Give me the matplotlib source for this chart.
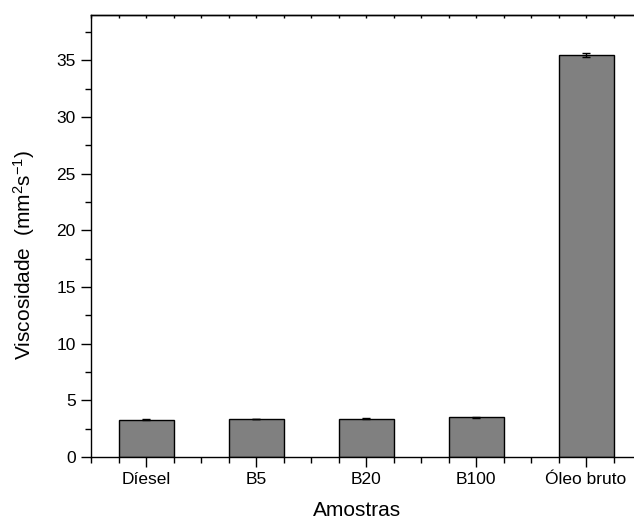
import matplotlib
matplotlib.use("Agg")
import matplotlib.pyplot as plt
from matplotlib.ticker import MultipleLocator

plt.rcParams['font.family'] = ['Liberation Sans', 'DejaVu Sans']
plt.rcParams['mathtext.fontset'] = 'custom'
plt.rcParams['mathtext.rm'] = 'Liberation Sans'
plt.rcParams['mathtext.it'] = 'Liberation Sans:italic'

categories = ['Díesel', 'B5', 'B20', 'B100', 'Óleo bruto']
viscosity = [3.30, 3.35, 3.38, 3.50, 35.48]
errors = [0.03, 0.02, 0.05, 0.05, 0.15]

fig = plt.figure(figsize=(6.34, 5.23), dpi=100)
ax = fig.add_axes([91 / 634, 1 - 457 / 523, 550 / 634, 442 / 523])

x = list(range(len(categories)))
ax.bar(x, viscosity, width=0.5, color='#808080', edgecolor='black', linewidth=1.0,
       yerr=errors, capsize=3, error_kw=dict(ecolor='black', elinewidth=1.0, capthick=1.0),
       zorder=2)

ax.set_xlim(-0.5, 4.5)
ax.set_ylim(0, 39)
ax.set_xticks(x)
ax.set_xticklabels(categories)
ax.xaxis.set_minor_locator(MultipleLocator(0.25))
ax.yaxis.set_major_locator(MultipleLocator(5))
ax.yaxis.set_minor_locator(MultipleLocator(2.5))
ax.tick_params(axis='both', which='major', direction='out', length=7, width=1, labelsize=12.5)
ax.tick_params(axis='both', which='minor', direction='out', length=4.5, width=1)
ax.tick_params(axis='x', which='major', pad=4)
ax.tick_params(axis='y', which='major', pad=4)

ax.spines['right'].set_visible(False)
for s in ('left', 'bottom', 'top'):
    ax.spines[s].set_linewidth(1.0)

top = ax.secondary_xaxis('top')
top.set_xticks(x)
top.xaxis.set_minor_locator(MultipleLocator(0.25))
top.tick_params(axis='x', which='both', direction='in', length=2.5, width=1,
                labeltop=False)
top.spines['top'].set_linewidth(1.0)

ax.set_xlabel('Amostras', fontsize=15, va='center', ha='center')
ax.set_ylabel('Viscosidade  (mm$^{2}$s$^{-1}$)', fontsize=15, va='center', ha='center')
ax.xaxis.set_label_coords(0.483, -0.122)
ax.yaxis.set_label_coords(-0.122, 0.457)

fig.savefig('out.png', dpi=100)
